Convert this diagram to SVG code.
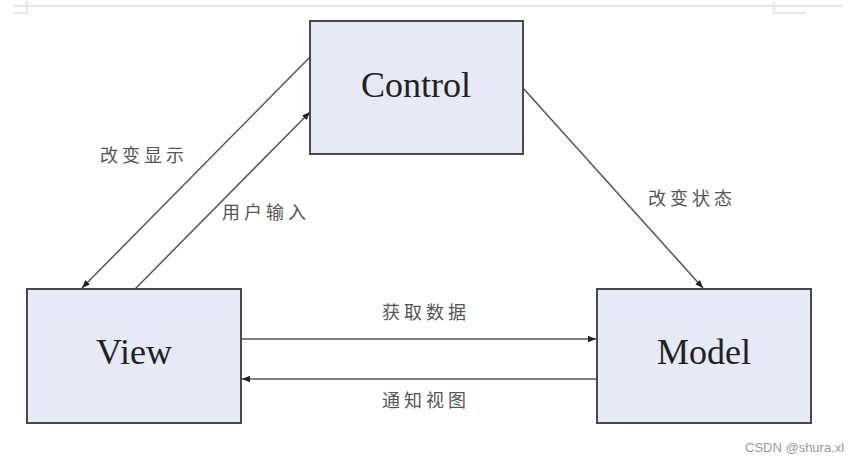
<svg xmlns="http://www.w3.org/2000/svg" width="858" height="462" viewBox="0 0 858 462">
<style>
.box{fill:#e6eaf6;stroke:#4a4a4a;stroke-width:2}
.title{font-family:"Liberation Serif","Times New Roman",serif;font-size:36px;fill:#222;text-anchor:middle}
.lbl{font-family:"Noto Sans CJK SC","Noto Sans",sans-serif;font-size:18px;fill:#555;letter-spacing:4px}
.conn{stroke:#555;stroke-width:1.5;fill:none;marker-end:url(#ah)}
.deco{stroke:#e6e6e6;stroke-width:2;fill:none}
.wm{font-family:"Liberation Sans",Arial,sans-serif;font-size:13px;fill:#999}
</style>
<defs>
<marker id="ah" viewBox="0 0 10 10" refX="10" refY="5" markerWidth="8" markerHeight="8" markerUnits="userSpaceOnUse" orient="auto">
<path d="M0,1 L10,5 L0,9 z" fill="#222"/>
</marker>
</defs>
<rect width="858" height="462" fill="#fff"/>
<g id="page-marks">
<path class="deco" d="M13,6 H843"/>
<path class="deco" d="M27,2 V13 H13"/>
<path class="deco" d="M774,2 V13 H806"/>
</g>
<g id="connectors">
<line class="conn" x1="310" y1="57" x2="82" y2="288"/>
<line class="conn" x1="135" y1="289" x2="310" y2="112"/>
<line class="conn" x1="523" y1="88" x2="703" y2="288"/>
<line class="conn" x1="241" y1="339" x2="596" y2="339"/>
<line class="conn" x1="597" y1="379" x2="242" y2="379"/>
<text class="lbl" x="100" y="162">改变显示</text>
<text class="lbl" x="222" y="219">用户输入</text>
<text class="lbl" x="648" y="205">改变状态</text>
<text class="lbl" x="382" y="319">获取数据</text>
<text class="lbl" x="382" y="407">通知视图</text>
</g>
<g id="control">
<rect class="box" x="310" y="21" width="213" height="133"/>
<text class="title" x="416" y="97">Control</text>
</g>
<g id="view">
<rect class="box" x="27" y="289" width="214" height="134"/>
<text class="title" x="134" y="364">View</text>
</g>
<g id="model">
<rect class="box" x="597" y="289" width="214" height="134"/>
<text class="title" x="704" y="364">Model</text>
</g>
<text class="wm" x="745" y="452">CSDN @shura.xl</text>
</svg>
